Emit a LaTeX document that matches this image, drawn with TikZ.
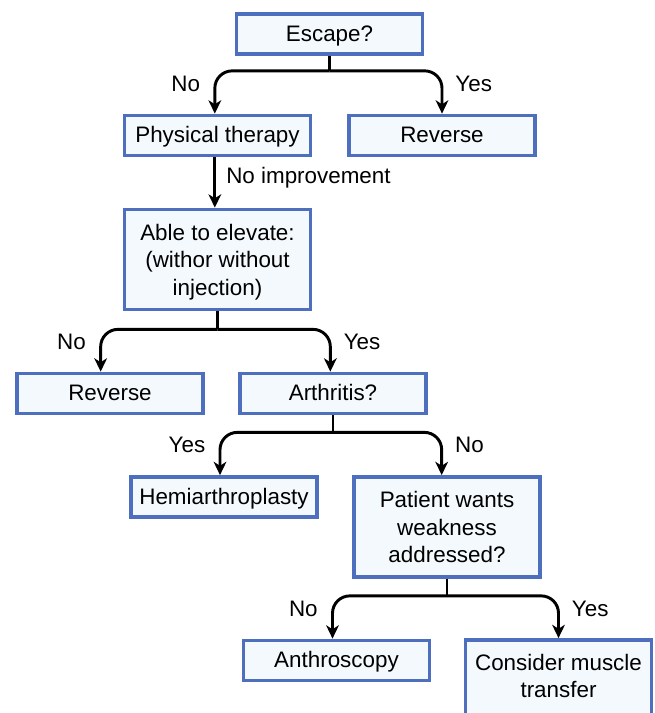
\documentclass[tikz,border=0pt]{standalone}
\usepackage{fontspec}
\setmainfont{Liberation Sans}
\usetikzlibrary{positioning,arrows.meta,calc}
\definecolor{boxblue}{RGB}{78,110,190}
\definecolor{boxfill}{RGB}{244,249,253}
\tikzset{
	box/.style={draw=boxblue, fill=boxfill, line width=2.8pt, minimum width=139.5pt, minimum height=30pt, align=center, inner sep=0pt, text height=12pt, text depth=1pt},
	tallbox/.style={draw=boxblue, fill=boxfill, line width=2.8pt, minimum width=139.5pt, minimum height=75pt, align=center, inner sep=0pt},
	stem/.style={line width=2.2pt},
	flow/.style={line width=2.2pt, rounded corners=13pt, -{Stealth[length=10pt,width=9.5pt,inset=3pt]}},
	lbl/.style={inner sep=0pt}
}

\begin{document}
\begin{tikzpicture}[x=0.75pt, y=-0.75pt, font=\fontsize{16.8}{20.6}\selectfont]
	\useasboundingbox (0,0) rectangle (654,713);
	% boxes
	\node[box] (escape) at (329.5,34) {Escape?};
	\node[box] (physio) at (217.5,135.5) {Physical therapy};
	\node[box] (rev1) at (442,135.5) {Reverse};
	\node[tallbox, text depth=0pt] (elevate) at (217.5,259.5) {Able to elevate:\\(withor without\\injection)};
	\node[box] (rev2) at (110,393.5) {Reverse};
	\node[box] (arthritis) at (333,393.5) {Arthritis?};
	\node[box] (hemi) at (224,497) {Hemiarthroplasty};
	\node[tallbox] (patient) at (447,527) {Patient wants\\weakness\\addressed?};
	\node[box] (anthro) at (336.5,660.5) {Anthroscopy};
	\node[tallbox, minimum height=90pt] (muscle) at (558.5,700) {};
	\node[lbl, align=center] (muscletxt) at (558.5,676) {Consider muscle\\transfer};
	% junctions
	\coordinate[below=11.25pt of escape.south] (j1);
	\coordinate[below=13.5pt of elevate.south] (j2);
	\coordinate[below=12.75pt of arthritis.south] (j3);
	\coordinate[below=12.75pt of patient.south] (j4);
	% connectors
	\draw[stem] (escape.south) -- (j1);
	\draw[flow] (j1) -| ([xshift=-2pt]physio.north) node[lbl, pos=0.65, left=10pt] {No};
	\draw[flow] (j1) -| (rev1.north) node[lbl, pos=0.65, right=9pt] {Yes};
	\draw[flow] ([xshift=-2pt]physio.south) -- ([xshift=-2pt]elevate.north) node[lbl, pos=0.4, right=7.5pt] {No improvement};
	\draw[stem] (elevate.south) -- (j2);
	\draw[flow] (j2) -| ([xshift=-7pt]rev2.north) node[lbl, pos=0.65, left=10pt] {No};
	\draw[flow] (j2) -| ([xshift=-2pt]arthritis.north) node[lbl, pos=0.65, right=9pt] {Yes};
	\draw[stem] (arthritis.south) -- (j3);
	\draw[flow] (j3) -| ([xshift=-3pt]hemi.north) node[lbl, pos=0.65, left=10pt] {Yes};
	\draw[flow] (j3) -| ([xshift=-4pt]patient.north) node[lbl, pos=0.65, right=9pt] {No};
	\draw[stem] (patient.south) -- (j4);
	\draw[flow] (j4) -| ([xshift=-3pt]anthro.north) node[lbl, pos=0.65, left=10pt] {No};
	\draw[flow] (j4) -| (muscle.north) node[lbl, pos=0.65, right=9pt] {Yes};
\end{tikzpicture}
\end{document}
